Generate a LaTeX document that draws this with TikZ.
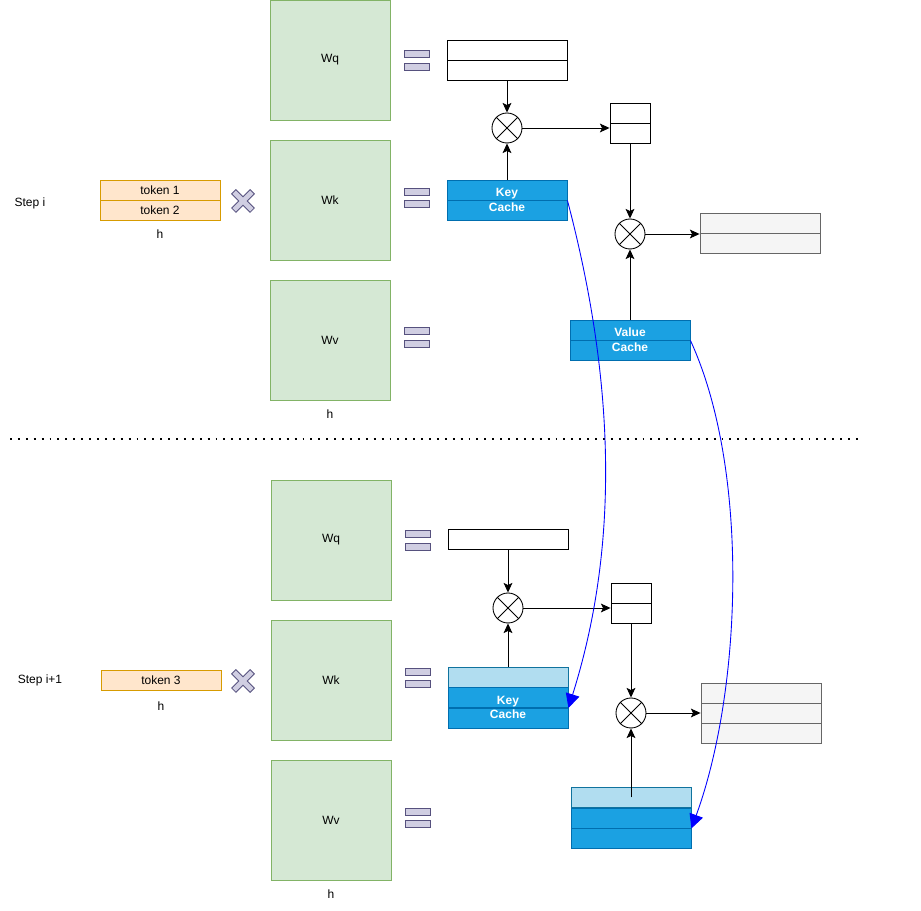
\documentclass[tikz,border=0pt]{standalone}
\usepackage{fontspec}
\setmainfont{Liberation Sans}
\usetikzlibrary{arrows.meta}

\definecolor{wfill}{HTML}{D5E8D4}
\definecolor{wline}{HTML}{82B366}
\definecolor{tokfill}{HTML}{FFE6CC}
\definecolor{tokline}{HTML}{D79B00}
\definecolor{eqfill}{HTML}{D0CEE2}
\definecolor{eqline}{HTML}{56517E}
\definecolor{cachefill}{HTML}{1BA1E2}
\definecolor{cacheline}{HTML}{006EAF}
\definecolor{newfill}{HTML}{B1DDF0}
\definecolor{newline}{HTML}{10739E}
\definecolor{outfill}{HTML}{F5F5F5}
\definecolor{outline}{HTML}{666666}

\tikzset{
  wbox/.style={draw=wline, fill=wfill, minimum width=2.4cm, minimum height=2.4cm, inner sep=0},
  tokrow/.style={draw=tokline, fill=tokfill, minimum width=2.4cm, minimum height=0.4cm, inner sep=0},
  eqbar/.style={draw=eqline, fill=eqfill, minimum width=0.5cm, minimum height=0.14cm, inner sep=0},
  plainrow/.style={draw, fill=white, minimum width=2.4cm, minimum height=0.4cm, inner sep=0},
  smallrow/.style={draw, fill=white, minimum width=0.8cm, minimum height=0.4cm, inner sep=0},
  outrow/.style={draw=outline, fill=outfill, minimum width=2.4cm, minimum height=0.4cm, inner sep=0},
  cacherow/.style={draw=cacheline, fill=cachefill, minimum width=2.4cm, minimum height=0.4cm, inner sep=0},
  newrow/.style={draw=newline, fill=newfill, minimum width=2.4cm, minimum height=0.4cm, inner sep=0},
  cachetext/.style={text=white, font=\fontsize{6.83}{8.3}\selectfont\bfseries, align=center},
  mult/.style={draw, circle, fill=white, minimum size=0.6cm, inner sep=0},
  flow/.style={-{Stealth[length=5.5pt, width=5pt, inset=1.2pt]}},
  copyline/.style={blue, -{Triangle[length=8pt, width=8pt]}},
}

\begin{document}
\begin{tikzpicture}[x=0.02cm, y=-0.02cm, line width=0.5pt,
  every node/.style={font=\fontsize{6.83}{8.2}\selectfont}]
\useasboundingbox (0,0) rectangle (921,911);

% Step i: weights.
\node[wbox] (wq) at (330,60) {Wq};
\node[wbox] (wk) at (330,200) {Wk};
\node[wbox] (wv) at (330,340) {Wv};
\node (hw) at (330,414) {h};

\node (stepa) at (30,203) {Step i};
\node[tokrow] (tok1) at (160,190) {token 1};
\node[tokrow] (tok2) at (160,210) {token 2};
\node (ht) at (160,234) {h};

% Equal signs.
\foreach \y in {54,66.5,191.5,204,331.3,344.3}
  \node[eqbar] at (416.5,\y) {};

% Query, key and value.
\node[plainrow] (q1) at (507,50) {};
\node[plainrow] (q2) at (507,70) {};
\node[mult] (m1) at (507,128) {};
\node[smallrow] (s1) at (630,113) {};
\node[smallrow] (s2) at (630,133) {};
\node[mult] (m2) at (630,234) {};
\node[outrow] (o1) at (760,223) {};
\node[outrow] (o2) at (760,243) {};

\node[cacherow] (k1) at (507,190) {};
\node[cacherow] (k2) at (507,210) {};
\node[cachetext] (kl) at (507,200) {Key\\Cache};
\node[cacherow] (v1) at (630,330) {};
\node[cacherow] (v2) at (630,350) {};
\node[cachetext] (vl) at (630,340) {Value\\Cache};

\draw[flow] (q2.south) -- (m1.north);
\draw[flow] (k1.north) -- (m1.south);
\draw[flow] (m1.east) -- (m1.east -| s1.west);
\draw[flow] (s2.south) -- (m2.north);
\draw[flow] (m2.east) -- (m2.east -| o1.west);
\draw[flow] (v1.north) -- (m2.south);

% Separator.
\coordinate (dl) at (10,439);
\coordinate (dr) at (862,439);
\draw[line width=1.1pt, dash pattern=on 1.1pt off 3.4pt] (dl) -- (dr);

% Step i+1: weights.
\node[wbox] (bwq) at (331,540) {Wq};
\node[wbox] (bwk) at (331,680) {Wk};
\node[wbox] (bwv) at (331,820) {Wv};
\node (bhw) at (331,894) {h};

\node (stepb) at (40,680) {Step i+1};
\node[tokrow] (tok3) at (161,680) {token 3};
\node (bht) at (161,706) {h};

\foreach \y in {534,546.5,671.5,684,811.5,824}
  \node[eqbar] at (417.5,\y) {};

% Times marks.
\foreach \y in {201,681}
  \filldraw[draw=eqline, fill=eqfill, shift={(243,\y)}, rotate=45]
    (-13,-3) -- (-3,-3) -- (-3,-13) -- (3,-13) -- (3,-3) -- (13,-3) -- (13,3)
    -- (3,3) -- (3,13) -- (-3,13) -- (-3,3) -- (-13,3) -- cycle;

% Query, key and value with cache.
\node[plainrow] (bq) at (508,539) {};
\node[mult] (bm1) at (508,608) {};
\node[smallrow] (bs1) at (631,593) {};
\node[smallrow] (bs2) at (631,613) {};
\node[mult] (bm2) at (631,713) {};
\node[outrow] (bo1) at (761,693) {};
\node[outrow] (bo2) at (761,713) {};
\node[outrow] (bo3) at (761,733) {};

\node[newrow] (bk0) at (508,677) {};
\node[cacherow] (bk1) at (508,697.5) {};
\node[cacherow] (bk2) at (508,718) {};
\node[cachetext] (bkl) at (508,707.5) {Key\\Cache};
\node[newrow] (bv0) at (631,797.5) {};
\node[cacherow] (bv1) at (631,818) {};
\node[cacherow] (bv2) at (631,838.5) {};

\draw[flow] (bq.south) -- (bm1.north);
\draw[flow] (bk0.north) -- (bm1.south);
\draw[flow] (bm1.east) -- (bm1.east -| bs1.west);
\draw[flow] (bs2.south) -- (bm2.north);
\draw[flow] (bm2.east) -- (bo2.west);
\draw[flow] (bv0.center) -- (bm2.south);

% Crosses in the product circles.
\foreach \m in {m1,m2,bm1,bm2} {
  \draw[line width=0.45pt] (\m.north east) -- (\m.south west);
  \draw[line width=0.45pt] (\m.north west) -- (\m.south east);
}

% Cache copies.
\draw[copyline] (k1.south east) .. controls (620,400) and (615,560) .. (bk1.south east);
\draw[copyline] (v1.south east) .. controls (750,470) and (742,690) .. (bv1.south east);

\end{tikzpicture}
\end{document}
